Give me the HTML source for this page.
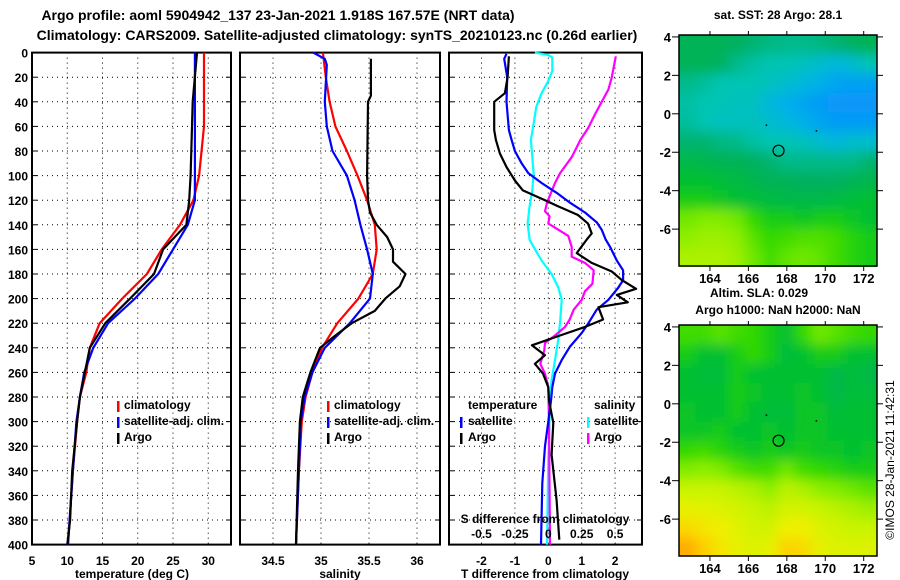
<!DOCTYPE html>
<html><head><meta charset="utf-8"><style>
html,body{margin:0;padding:0;background:#fff;}
svg{display:block;font-family:"Liberation Sans",sans-serif;font-weight:bold;}
</style></head><body>
<svg id="fig" width="900" height="580" viewBox="0 0 900 580">
<defs><filter id="blur" x="0" y="0" width="1" height="1"><feGaussianBlur stdDeviation="6"/></filter>
<clipPath id="clipM1"><rect x="679" y="35" width="198" height="232"/></clipPath>
<clipPath id="clipM2"><rect x="679" y="325" width="198" height="231"/></clipPath>
</defs>
<text x="278" y="20" font-size="14" text-anchor="middle">Argo profile: aoml 5904942_137 23-Jan-2021 1.918S 167.57E (NRT data)</text>
<text x="337" y="40" font-size="14" text-anchor="middle">Climatology: CARS2009. Satellite-adjusted climatology: synTS_20210123.nc (0.26d earlier)</text>
<g id="g"></g>
<text x="778" y="19" font-size="12" text-anchor="middle">sat. SST: 28 Argo: 28.1</text>
<text x="759" y="297" font-size="12" text-anchor="middle">Altim. SLA: 0.029</text>
<text x="778" y="314" font-size="12" text-anchor="middle">Argo h1000: NaN h2000: NaN</text>
<text transform="translate(894,460) rotate(-90)" font-size="12" font-weight="normal" text-anchor="middle">©IMOS 28-Jan-2021 11:42:31</text>
</svg>
<script>
// ---------- data ----------
const depthTicks=[0,20,40,60,80,100,120,140,160,180,200,220,240,260,280,300,320,340,360,380,400];
const tTicks=[5,10,15,20,25,30];
const sTicks=[34.5,35,35.5,36];
const dTicks=[-2,-1,0,1,2];
const sdTicks=[-0.5,-0.25,0,0.25,0.5];
const sdTickLabels=['-0.5','-0.25','0','0.25','0.5'];

const argoTDepth=[0,40,100,120,140,160,180,200,220,240,260,280,300,340,380,400];
const argoT=[28.4,27.8,27.5,27.3,26.9,23.6,22.3,18.9,15.4,13.2,12.5,11.8,11.4,10.7,10.4,10.0];
const climTDepth=[0,60,100,120,140,160,180,200,220,240,260,280,300,340,400];
const climT=[29.4,29.4,28.7,27.9,26.0,23.4,21.3,17.8,14.6,13.2,12.7,11.8,11.4,10.8,10.1];
const satTDepth=[0,120,140,160,180,200,220,240,260,280,300,340,400];
const satT=[28.1,28.1,27.1,25.0,22.9,19.6,15.8,13.7,12.4,11.8,11.3,10.8,10.1];

const argoSDepth=[5,35,40,100,120,130,140,150,160,170,180,190,200,210,220,230,240,260,280,300,340,400];
const argoS=[35.52,35.52,35.49,35.48,35.49,35.51,35.58,35.69,35.75,35.75,35.88,35.82,35.67,35.56,35.32,35.15,34.99,34.89,34.81,34.78,34.76,34.74];
const climSDepth=[0,20,40,60,80,100,120,140,160,180,200,220,240,260,280,300,340,400];
const climS=[35.02,35.05,35.09,35.15,35.27,35.38,35.48,35.56,35.58,35.54,35.39,35.17,35.01,34.91,34.84,34.80,34.77,34.74];
const satSDepth=[0,5,10,40,60,80,100,120,140,160,180,200,220,240,260,280,300,400];
const satS=[34.92,35.04,35.06,35.04,35.06,35.12,35.27,35.35,35.41,35.48,35.54,35.51,35.30,35.04,34.91,34.83,34.79,34.74];

const argoTdDepth=[3,20,33,40,63,71,82,93,104,112,120,125,132,139,147,152,163,171,178,185,192,197,203,207,217,223,230,238,246,253,261,272,283,301,327,364,396];
const argoTd=[-1.18,-1.22,-1.30,-1.62,-1.62,-1.57,-1.45,-1.25,-1.0,-0.76,-0.1,0.29,0.89,1.19,1.3,1.15,0.85,1.3,1.9,2.2,2.63,2.05,2.38,1.5,1.64,1.1,0.35,-0.49,-0.1,-0.4,-0.16,0,0.02,0.15,0.1,0.25,0.33];
const satTdDepth=[1,5,20,40,63,71,80,90,98,106,114,122,130,138,144,152,158,169,177,185,191,201,209,220,228,239,250,261,272,283,300,320,350,400];
const satTd=[-1.25,-1.32,-1.23,-1.25,-1.18,-1.1,-1.0,-0.8,-0.6,-0.2,0.25,0.65,1.1,1.45,1.6,1.72,1.85,2.05,2.24,2.24,2.1,1.8,1.45,1.2,1.0,0.65,0.4,0.2,0.12,0.08,0.0,-0.1,-0.18,-0.22];
const satSdDepth=[0,2,4,15,23,33,44,58,71,98,112,125,139,152,158,169,180,191,201,217,233,250,266,283,330,400];
const satSd=[-0.1,0,0.03,0.03,0,-0.05,-0.09,-0.11,-0.13,-0.11,-0.12,-0.14,-0.155,-0.14,-0.11,-0.05,0.025,0.075,0.1,0.09,0.075,0.05,0.025,0.013,0,-0.01];
const argoSdDepth=[3,20,30,40,50,61,71,85,98,106,114,122,129,133,139,144,149,158,166,171,177,188,194,201,209,217,223,230,236,242,253,261,272,300,400];
const argoSd=[0.505,0.475,0.45,0.4,0.35,0.3,0.24,0.175,0.088,0.05,0.02,-0.01,-0.025,0.01,0,0.075,0.15,0.175,0.175,0.275,0.34,0.33,0.275,0.25,0.19,0.16,0.125,0.05,-0.025,-0.03,-0.06,-0.025,0,0.005,0.013];

const mapTicksLat=[4,2,0,-2,-4,-6];
const mapTicksLon=[164,166,168,170,172];
const sstGrid=[
[0.42,0.42,0.42,0.40,0.38,0.36,0.35,0.35,0.36,0.38,0.40,0.42],
[0.42,0.42,0.40,0.35,0.32,0.30,0.30,0.28,0.25,0.22,0.25,0.30],
[0.35,0.33,0.30,0.30,0.30,0.28,0.25,0.22,0.18,0.12,0.10,0.10],
[0.32,0.30,0.30,0.28,0.28,0.22,0.18,0.12,0.08,0.05,0.05,0.05],
[0.33,0.30,0.28,0.28,0.28,0.25,0.22,0.18,0.12,0.08,0.08,0.08],
[0.38,0.38,0.36,0.35,0.32,0.30,0.30,0.28,0.25,0.22,0.25,0.25],
[0.45,0.44,0.42,0.42,0.40,0.38,0.35,0.35,0.35,0.35,0.35,0.38],
[0.50,0.50,0.48,0.46,0.44,0.42,0.42,0.40,0.40,0.40,0.42,0.44],
[0.55,0.55,0.52,0.50,0.48,0.46,0.45,0.45,0.45,0.46,0.48,0.50],
[0.68,0.70,0.70,0.68,0.60,0.55,0.55,0.52,0.55,0.55,0.52,0.50],
[0.72,0.74,0.74,0.72,0.65,0.60,0.62,0.64,0.64,0.62,0.58,0.55],
[0.76,0.76,0.76,0.74,0.68,0.62,0.66,0.68,0.66,0.62,0.58,0.55]];
const slaGrid=[
[0.62,0.62,0.65,0.62,0.60,0.55,0.50,0.60,0.68,0.65,0.62,0.60],
[0.55,0.50,0.50,0.55,0.60,0.55,0.48,0.50,0.55,0.55,0.50,0.50],
[0.50,0.48,0.48,0.55,0.50,0.50,0.50,0.50,0.50,0.45,0.48,0.45],
[0.50,0.50,0.50,0.55,0.52,0.50,0.50,0.52,0.50,0.45,0.48,0.48],
[0.52,0.50,0.50,0.55,0.50,0.48,0.48,0.52,0.52,0.48,0.50,0.50],
[0.52,0.52,0.55,0.50,0.50,0.52,0.50,0.52,0.52,0.50,0.50,0.50],
[0.60,0.62,0.58,0.55,0.52,0.55,0.52,0.55,0.52,0.52,0.50,0.52],
[0.70,0.72,0.70,0.65,0.62,0.62,0.68,0.62,0.60,0.58,0.55,0.55],
[0.80,0.80,0.80,0.78,0.76,0.72,0.78,0.76,0.72,0.70,0.68,0.65],
[0.86,0.85,0.84,0.82,0.80,0.78,0.82,0.82,0.80,0.78,0.76,0.74],
[0.92,0.90,0.88,0.85,0.82,0.82,0.88,0.88,0.84,0.82,0.80,0.80],
[0.98,0.94,0.90,0.86,0.84,0.86,0.93,0.92,0.86,0.84,0.84,0.84]];
const argoLon=167.57, argoLat=-1.918;

// ---------- drawing ----------
const NS='http://www.w3.org/2000/svg';
const G=document.getElementById('g');
function mk(tag,attrs,parent){const e=document.createElementNS(NS,tag);for(const k in attrs)e.setAttribute(k,attrs[k]);(parent||G).appendChild(e);return e;}
const yD=d=>52.6+d*1.23;
const xT=t=>32+(t-5)*7.05;
const xS=s=>273+(s-34.5)*96;
const xTd=v=>548.3+v*33.4;
const xSd=v=>548.3+v*133.6;

function panel(name,x0,x1,ticks,xf,labels){
  const g=mk('g',{});
  
  
  depthTicks.forEach(d=>{if(d>0&&d<400){const l=mk('line',{x1:x0,x2:x1,y1:yD(d),y2:yD(d),stroke:'#000','stroke-width':1,'stroke-dasharray':'1,4'},g);}
    mk('line',{x1:x0,x2:x0+5,y1:yD(d),y2:yD(d),stroke:'#000','stroke-width':1},g);mk('line',{x1:x1-5,x2:x1,y1:yD(d),y2:yD(d),stroke:'#000','stroke-width':1},g);});
  ticks.forEach((t,i)=>{const x=xf(t);if(x>x0+2&&x<x1-2){const l=mk('line',{x1:x,x2:x,y1:yD(0),y2:yD(400),stroke:'#000','stroke-width':1,'stroke-dasharray':'1,4'},g);}
    const tx=mk('text',{x:x,y:565,'font-size':12,'text-anchor':'middle'},g);tx.textContent=labels?labels[i]:String(t);
    });
  const r=mk('rect',{x:x0,y:yD(0),width:x1-x0,height:yD(400)-yD(0),fill:'none',stroke:'#000','stroke-width':2},g);
  
  return g;
}
function line(depths,vals,xf,color,name){
  const p=mk('polyline',{points:depths.map((d,i)=>xf(vals[i]).toFixed(1)+','+yD(d).toFixed(1)).join(' '),fill:'none',stroke:color,'stroke-width':2.2,'stroke-linejoin':'round'});
  
  
}
function txt(x,y,s,name,anchor,size){const t=mk('text',{x:x,y:y,'font-size':size||12,'text-anchor':anchor||'start'});t.textContent=s;return t;}
function legBar(x,y,color,name){const r=mk('rect',{x:x,y:y-9,width:2.5,height:11,fill:color});}

// depth labels
depthTicks.forEach(d=>{txt(28,yD(d)+5,String(d),'depth-tick-label','end');});

panel('temperature-panel',32,231,tTicks,xT);
panel('salinity-panel',240,440,sTicks,xS);
panel('difference-panel',449,642,dTicks,xTd);

line(climTDepth,climT,xT,'#f00','climatology-temperature-line');
line(satTDepth,satT,xT,'#00f','satellite-temperature-line');
line(argoTDepth,argoT,xT,'#000','argo-temperature-line');
line(climSDepth,climS,xS,'#f00','climatology-salinity-line');
line(satSDepth,satS,xS,'#00f','satellite-salinity-line');
line(argoSDepth,argoS,xS,'#000','argo-salinity-line');
line(satSdDepth,satSd,xSd,'#0ff','satellite-salinity-diff-line');
line(argoSdDepth,argoSd,xSd,'#f0f','argo-salinity-diff-line');
line(satTdDepth,satTd,xTd,'#00f','satellite-temperature-diff-line');
line(argoTdDepth,argoTd,xTd,'#000','argo-temperature-diff-line');

// legends
legBar(117,410,'#f00','legend-climatology-swatch');txt(124,409,'climatology','legend-climatology');
legBar(117,426,'#00f','legend-satellite-swatch');txt(124,425,'satellite-adj. clim.','legend-satellite');
legBar(117,442,'#000','legend-argo-swatch');txt(124,441,'Argo','legend-argo');
legBar(327,410,'#f00','legend-climatology-swatch');txt(334,409,'climatology','legend-climatology');
legBar(327,426,'#00f','legend-satellite-swatch');txt(334,425,'satellite-adj. clim.','legend-satellite');
legBar(327,442,'#000','legend-argo-swatch');txt(334,441,'Argo','legend-argo');
txt(468,409,'temperature','legend-temperature-header');
legBar(460,426,'#00f','legend-t-satellite-swatch');txt(468,425,'satellite','legend-t-satellite');
legBar(460,442,'#000','legend-t-argo-swatch');txt(468,441,'Argo','legend-t-argo');
txt(594,409,'salinity','legend-salinity-header');
legBar(587,426,'#0ff','legend-s-satellite-swatch');txt(594,425,'satellite','legend-s-satellite');
legBar(587,442,'#f0f','legend-s-argo-swatch');txt(594,441,'Argo','legend-s-argo');
txt(545,523,'S difference from climatology','s-diff-axis-title','middle');
sdTicks.forEach((v,i)=>txt(xSd(v),538,sdTickLabels[i],'s-diff-tick-label','middle'));

// axis titles
txt(132,578,'temperature (deg C)','temperature-axis-title','middle');
txt(340,578,'salinity','salinity-axis-title','middle');
txt(545,578,'T difference from climatology','t-diff-axis-title','middle');

// maps
function cmap(v){
  const st=[[0,[10,140,255]],[0.2,[0,180,230]],[0.3,[0,196,180]],[0.4,[0,176,96]],[0.5,[0,192,48]],[0.6,[48,216,0]],[0.7,[128,236,0]],[0.8,[200,244,0]],[0.88,[240,240,0]],[0.95,[255,200,0]],[1,[255,152,0]]];
  for(let i=1;i<st.length;i++){if(v<=st[i][0]){const a=st[i-1],b=st[i],f=(v-a[0])/(b[0]-a[0]);const c=a[1].map((x,k)=>Math.round(x+(b[1][k]-x)*f));return 'rgb('+c+')';}}
  return 'rgb(255,152,0)';
}
function mapPanel(grid,top,name,clip,showLonTop){
  const lon0=162.39,lon1=172.68,lat0=4.1,pxd=19.22;
  const X=lon=>679+(lon-lon0)*pxd, Y=lat=>top+(lat0-lat)*pxd;
  const g=mk('g',{});
  
  
  const cg=mk('g',{'clip-path':'url(#'+clip+')'},g);
  const inner=mk('g',{filter:'url(#blur)'},cg);
  const nr=grid.length,nc=grid[0].length,cw=198/nc,ch=232/nr;
  // padding cells
  for(let r=-1;r<=nr;r++)for(let c=-1;c<=nc;c++){
    const rr=Math.min(nr-1,Math.max(0,r)),cc=Math.min(nc-1,Math.max(0,c));
    const cell=mk('rect',{x:679+c*cw,y:top+r*ch,width:cw+0.5,height:ch+0.5,fill:cmap(grid[rr][cc])},inner);
    
    
  }
  const fr=mk('rect',{x:679,y:top,width:198,height:231,fill:'none',stroke:'#000','stroke-width':1.5},g);
  
  mapTicksLat.forEach(l=>{const y=Y(l);mk('line',{x1:672,x2:679,y1:y,y2:y,stroke:'#000'},g);mk('line',{x1:877,x2:883,y1:y,y2:y,stroke:'#000'},g);txt(671,y+5,String(l),'map-lat-label','end',13);});
  mapTicksLon.forEach(l=>{const x=X(l);mk('line',{x1:x,x2:x,y1:top-4,y2:top,stroke:'#000'},g);mk('line',{x1:x,x2:x,y1:top+231,y2:top+236,stroke:'#000'},g);txt(x,top+231+17,String(l),'map-lon-label','middle',13);});
  const c=mk('circle',{cx:X(argoLon),cy:Y(argoLat),r:5.5,fill:'none',stroke:'#000','stroke-width':1.2},g);
  
  mk('rect',{x:X(166.9),y:Y(-0.55),width:1.5,height:1.5,fill:'#000'},g);
  mk('rect',{x:X(169.5),y:Y(-0.85),width:1.5,height:1.5,fill:'#000'},g);
}
mapPanel(sstGrid,35,'sst-map','clipM1');
mapPanel(slaGrid,325,'sla-map','clipM2');
</script>
</body></html>
